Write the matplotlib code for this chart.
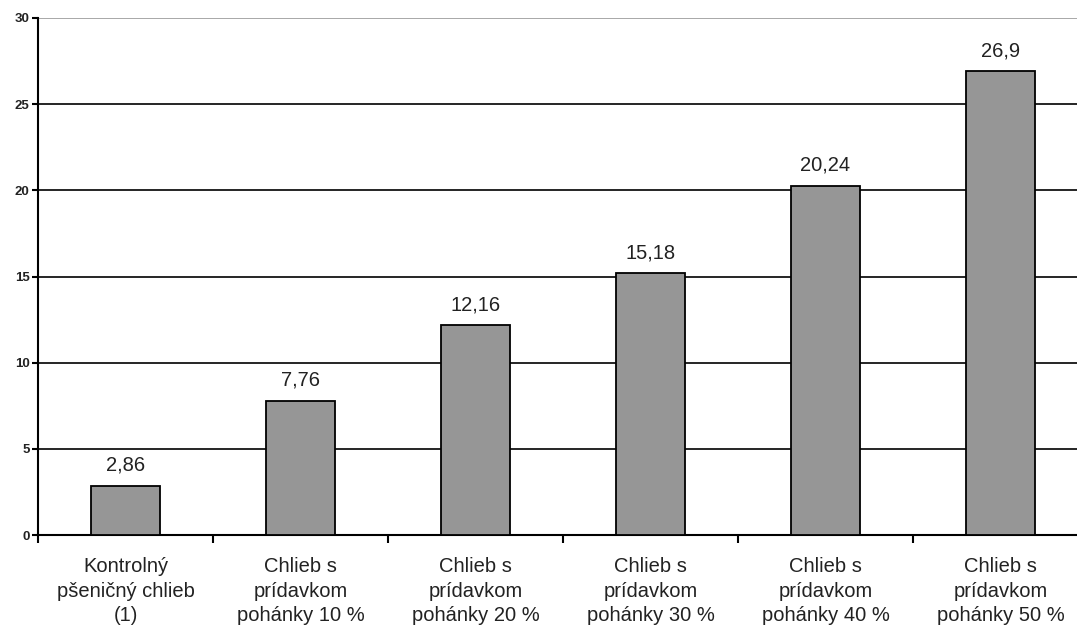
import matplotlib
matplotlib.use("Agg")
import matplotlib.pyplot as plt

categories = ["Kontrolný\npšeničný chlieb\n(1)",
              "Chlieb s\nprídavkom\npohánky 10 %",
              "Chlieb s\nprídavkom\npohánky 20 %",
              "Chlieb s\nprídavkom\npohánky 30 %",
              "Chlieb s\nprídavkom\npohánky 40 %",
              "Chlieb s\nprídavkom\npohánky 50 %"]
values = [2.86, 7.76, 12.16, 15.18, 20.24, 26.9]
value_labels = ["2,86", "7,76", "12,16", "15,18", "20,24", "26,9"]
yticks = [0, 5, 10, 15, 20, 25, 30]

plt.rcParams['font.family'] = ['Liberation Sans', 'DejaVu Sans']
fig = plt.figure(figsize=(10.77, 6.28), dpi=100)
ax = fig.add_axes([38/1077, 1 - 535/628, 1050/1077, 517/628])

x = list(range(len(values)))
ax.bar(x, values, width=0.395, color="#969696", edgecolor="black", linewidth=1.3, zorder=3)
for xi, v, lab in zip(x, values, value_labels):
    ax.annotate(lab, (xi, v), xytext=(0, 11), textcoords="offset points",
                ha="center", va="baseline", fontsize=14.5, color="#222222")

ax.set_xlim(-0.5, len(values) - 0.5)
ax.set_ylim(0, 30)
ax.set_yticks(yticks)
ax.set_yticklabels([str(t) for t in yticks], fontsize=9.5, fontweight="bold", color="#222222")
ax.yaxis.grid(True, color="black", linewidth=1.2, zorder=0)
ax.get_ygridlines()[-1].set_color("#999999")
ax.set_axisbelow(True)

ax.set_xticks([i + 0.5 for i in range(len(values) - 1)] + [-0.5])
ax.set_xticklabels([""] * len(values))
ax.set_xticks(x, minor=True)
ax.set_xticklabels(categories, minor=True, fontsize=14.5, linespacing=1.36, color="#222222")
ax.tick_params(axis="x", which="major", length=6, width=1.5, direction="out")
ax.tick_params(axis="x", which="minor", length=0, pad=16)
ax.tick_params(axis="y", length=4, width=1.5, direction="out", pad=2)

for s in ["top", "right"]:
    ax.spines[s].set_visible(False)
ax.spines["left"].set_linewidth(1.5)
ax.spines["bottom"].set_linewidth(1.5)

fig.savefig("out.png", dpi=100)
